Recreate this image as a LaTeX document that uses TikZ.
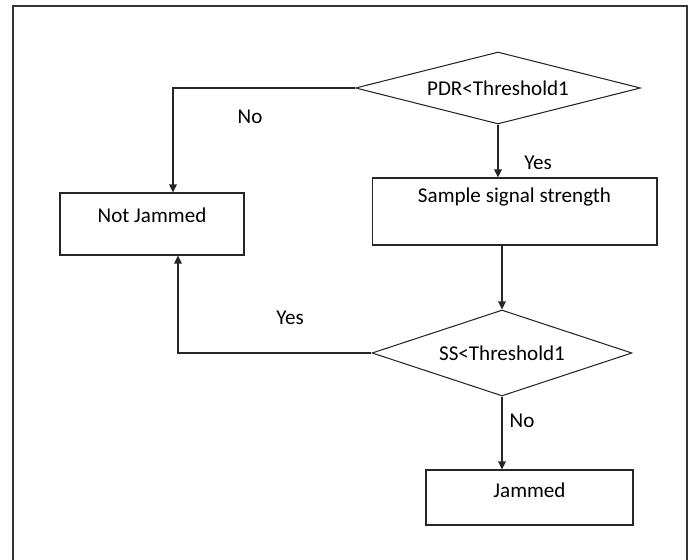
\documentclass[tikz,border=0pt]{standalone}
\usepackage{fontspec}
\setmainfont{Carlito}
\usepackage{tikz}
\usetikzlibrary{shapes.geometric,arrows.meta}

\begin{document}
\begin{tikzpicture}[x=0.02cm,y=-0.02cm,
  font=\fontsize{12}{14}\selectfont,
  line/.style={draw=black!85,line width=0.6pt},
  arr/.style={line,-{Triangle[length=1.6mm,width=1.5mm]}},
  decision/.style={line,diamond,inner sep=0pt,aspect=#1},
  block/.style={line,rectangle,inner sep=0pt}
]
\useasboundingbox (0,0) rectangle (691,560);
% frame
\draw[line width=1.4pt,black!80] (13,570) -- (13,6) -- (687,6) -- (687,570);

\node[decision=3.96,minimum width=5.7cm,minimum height=1.44cm] (pdr) at (498,88) {PDR<Threshold1};
\node[block,minimum width=5.7cm,text height=0.5cm,text depth=0.84cm] (sample) at (514.5,211.5) {Sample signal strength};
\node[block,minimum width=3.68cm,text height=0.6cm,text depth=0.64cm] (notj) at (152,224) {Not Jammed};
\node[decision=3.0,minimum width=5.2cm,minimum height=1.72cm] (ss) at (502,353) {SS<Threshold1};
\node[block,minimum width=4.14cm,text height=0.56cm,text depth=0.54cm] (jam) at (529.5,497.5) {Jammed};

\draw[arr] (pdr.west) -| ([xshift=0.42cm]notj.north);
\draw[arr] (pdr.south) -- (pdr.south |- sample.north);
\draw[arr] (sample.south -| ss.north) -- (ss.north);
\draw[arr] (ss.west) -| ([xshift=0.52cm]notj.south);
\draw[arr] (ss.south) -- (ss.south |- jam.north);

\node (no1) at (250,117) {No};
\node (yes1) at (538,163) {Yes};
\node (yes2) at (290,318) {Yes};
\node (no2) at (522,421) {No};
\end{tikzpicture}
\end{document}
